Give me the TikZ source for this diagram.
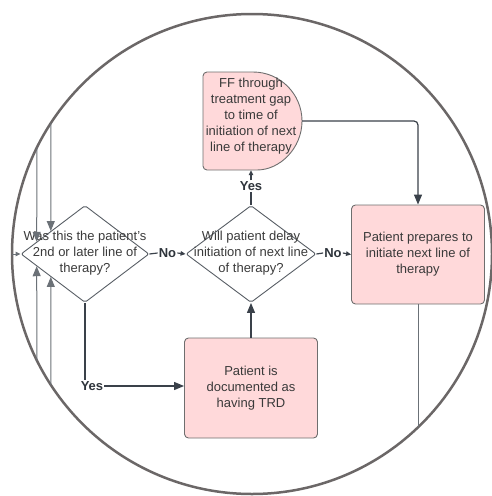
\documentclass[tikz,border=0pt]{standalone}
\usepackage{fontspec}
\setmainfont{Liberation Sans}
\usetikzlibrary{shapes.geometric,arrows.meta,calc}
\definecolor{linec}{HTML}{3A414A}
\definecolor{pinkf}{HTML}{FFD9DA}
\definecolor{boxb}{HTML}{6E6E6E}
\definecolor{circc}{HTML}{6B6767}
\definecolor{txt}{HTML}{3A3A3A}
\begin{document}
\begin{tikzpicture}[x=1pt,y=1pt,
  every node/.style={font=\fontsize{13}{16}\selectfont, text=txt},
  pbox/.style={draw=boxb, fill=pinkf, rounded corners=4pt, line width=0.9pt, inner sep=0pt, align=center},
  dia/.style={diamond, draw=linec!85, line width=0.9pt, inner sep=0pt, rounded corners=2pt},
  txtnode/.style={align=center, inner sep=0pt},
  lbl/.style={font=\bfseries\fontsize{13}{16}\selectfont, inner sep=1pt, text=linec!80!black},
  conn/.style={draw=linec, line width=1.2pt},
  bigarr/.style={conn, -{Triangle[length=10pt,width=8pt]}},
  smallarr/.style={conn, -{Triangle[length=5pt,width=4.5pt]}},
  sidearr/.style={draw=linec!75, line width=1pt, -{Triangle[length=10pt,width=8pt]}},
]
\useasboundingbox (0,0) rectangle (492,-496);
\draw[circc, line width=2.5pt] (252,-254) circle[radius=240];

% decision diamonds
\node[dia, minimum width=128pt, minimum height=97pt] (d1) at (85,-254) {};
\node[txtnode] (d1t) at (85,-253) {Was this the patient's\\2nd or later line of\\therapy?};
\node[dia, minimum width=130pt, minimum height=97pt] (d2) at (251,-254) {};
\node[txtnode] (d2t) at (251,-253) {Will patient delay\\initiation of next line\\of therapy?};

% boxes
\node[pbox, minimum width=133pt, minimum height=99pt] (prep) at (418,-254.5) {Patient prepares to\\initiate next line of\\therapy};
\node[pbox, minimum width=133pt, minimum height=100pt] (trd) at (251,-388) {Patient is\\documented as\\having TRD};

% FF delay-shaped box
\draw[draw=boxb, fill=pinkf, line width=0.9pt, rounded corners=4pt]
  (253,-72) -- (203,-72) -- (203,-170) -- (253,-170) [sharp corners] arc[start angle=-90,end angle=90,radius=49] -- cycle;
\node[minimum width=99pt, minimum height=98pt, inner sep=0pt] (ff) at (252.5,-121) {};
\node[txtnode] (fft) at (251,-116) {FF through\\treatment gap\\to time of\\initiation of next\\line of therapy};

% labels
\node[lbl] (no1) at (167.5,-253) {No};
\node[lbl] (no2) at (333,-253) {No};
\node[lbl] (yes1) at (251,-186) {Yes};
\node[lbl] (yes2) at (92,-386) {Yes};

% connectors
\draw[conn] (d1.east) -- (no1.west);
\draw[smallarr] (no1.east) -- (d2.west);
\draw[conn] (d2.east) -- (no2.west);
\draw[smallarr] (no2.east) -- (prep.west);
\draw[conn] (d2.north) -- (yes1.south);
\draw[smallarr] (yes1.north) -- (yes1.north |- ff.south);
\draw[conn] (d1.south) -- (d1.south |- yes2.north);
\draw[bigarr] (yes2.east) -- (yes2.east -| trd.west);
\draw[bigarr] (trd.north) -- (d2.south);
\draw[bigarr, rounded corners=4pt] (ff.east) -| (prep.north);

% lines running off the circle
\coordinate (t37) at (37,-147.3);
\coordinate (t51) at (51,-122.9);
\coordinate (b37) at (37,-360.7);
\coordinate (b51) at (51,-385.1);
\coordinate (lw) at (12,-254);
\coordinate (pb) at (418,-427.3);
\draw[sidearr] (t37) -- ($(d1.west)!0.25!(d1.north)$);
\draw[sidearr] (t51) -- ($(d1.west)!0.469!(d1.north)$);
\draw[sidearr] (b37) -- ($(d1.west)!0.25!(d1.south)$);
\draw[sidearr] (b51) -- ($(d1.west)!0.469!(d1.south)$);
\draw[draw=linec!75, line width=1pt, -{Triangle[length=5pt,width=4.5pt]}] (lw) -- (d1.west);
\draw[draw=linec!75, line width=1pt] (prep.south) -- (pb);
\end{tikzpicture}
\end{document}
